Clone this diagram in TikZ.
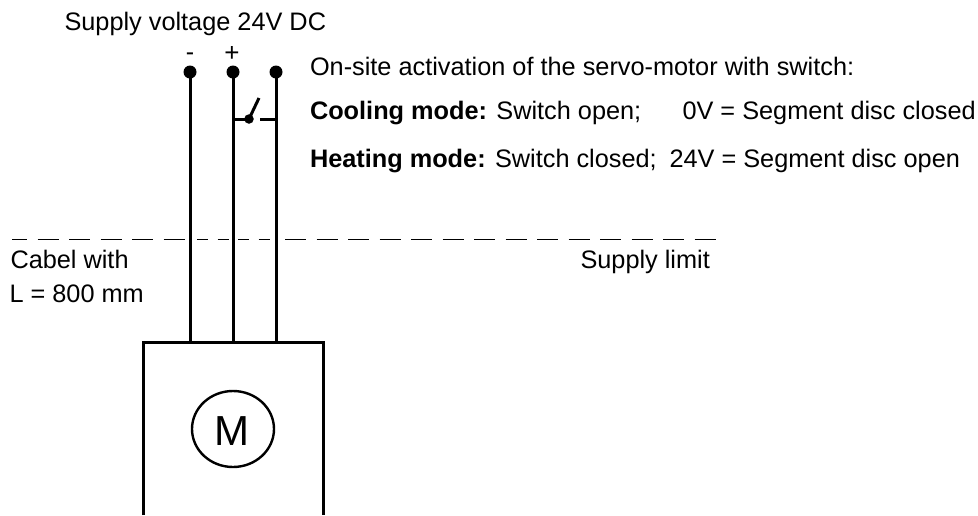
\documentclass[tikz,border=0pt]{standalone}
\usepackage{fontspec}
\setmainfont{Liberation Sans}
\begin{document}
\begin{tikzpicture}[x=1pt, y=-1pt, line width=3pt,
	terminal/.style={circle, fill=black, inner sep=0pt, minimum size=13pt},
	pivot/.style={circle, fill=black, inner sep=0pt, minimum size=9.5pt},
	caption/.style={anchor=base west, inner sep=0pt, font=\fontsize{25.3}{25.3}\selectfont},
	limitlong/.style={line width=1pt, dash pattern=on 21pt off 10.5pt},
	limitshort/.style={line width=1pt, dash pattern=on 11pt off 9.5pt}]
	\useasboundingbox (0,0) rectangle (978,515);

	% Draw the terminals and the wires down to the housing
	\foreach \name/\x in {minus/190, plus/233, free/276} {
		\node[terminal] (\name) at (\x,72) {};
		\coordinate (\name in) at (\x,342);
		\draw (\name.center) -- (\name in);
	}
	\node[inner sep=0pt, font=\fontsize{25}{25}\selectfont] (minus sign) at (190,57) {-};
	\node[inner sep=0pt, font=\fontsize{26}{26}\selectfont] (plus sign) at (232,54) {+};

	% Draw the switch between the two right wires
	\node[pivot] (pivot) at (249,119) {};
	\coordinate (plus tap) at (233,119);
	\coordinate (free tap) at (276,119);
	\coordinate (contact) at (260,119);
	\coordinate (blade) at (259,98);
	\draw (plus tap) -- (pivot.center);
	\draw (pivot.center) -- (blade);
	\draw (contact) -- (free tap);

	% Draw the supply limit (dashes get shorter between the wires)
	\coordinate (limit a) at (12,239);
	\coordinate (limit b) at (186,239);
	\coordinate (limit c) at (197,239);
	\coordinate (limit d) at (270,239);
	\coordinate (limit e) at (285,239);
	\coordinate (limit f) at (717,239);
	\draw[limitlong, dash phase=6pt] (limit a) -- (limit b);
	\draw[limitshort] (limit c) -- (limit d);
	\draw[limitlong] (limit e) -- (limit f);

	% Draw the housing, open at the bottom of the picture
	\coordinate (housing bl) at (143,515);
	\coordinate (housing tl) at (143,342);
	\coordinate (housing tr) at (323,342);
	\coordinate (housing br) at (323,515);
	\draw[line join=miter] (housing bl) -- (housing tl) -- (housing tr) -- (housing br);
	\draw[line width=2.4pt] (233,429) ellipse [x radius=41, y radius=38];
	\node[inner sep=0pt, font=\fontsize{42}{42}\selectfont] (motor) at (232,431) {M};

	% Texts
	\node[caption] (supply) at (63,30) {Supply voltage 24V DC};
	\node[caption] (title) at (308.5,75) {On-site activation of the servo-motor with switch:};
	\node[caption] (cooling) at (308.5,119) {\textbf{Cooling mode:} Switch open;};
	\node[caption] (cooling state) at (681,119) {0V = Segment disc closed};
	\node[caption] (heating) at (308.5,167) {\textbf{Heating mode:} Switch closed;};
	\node[caption] (heating state) at (668,167) {24V = Segment disc open};
	\node[caption] (limit) at (579,268) {Supply limit};
	\node[caption] (cable) at (9,268) {Cabel with};
	\node[caption] (length) at (8,302) {L = 800 mm};
\end{tikzpicture}
\end{document}
